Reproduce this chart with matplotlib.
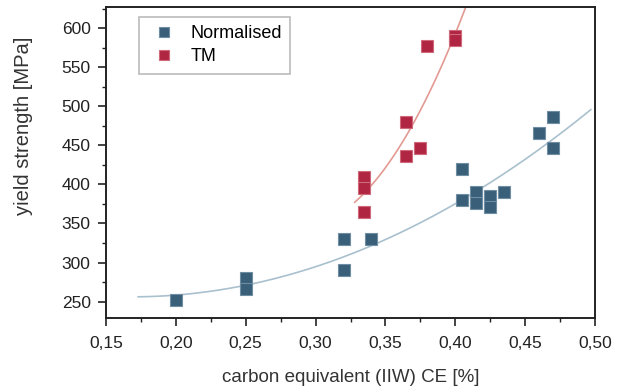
import numpy as np
import matplotlib
matplotlib.use("Agg")
import matplotlib.pyplot as plt
from matplotlib.ticker import MultipleLocator, FuncFormatter

# carbon equivalent CE [%] and yield strength [MPa]
norm_ce = [0.20, 0.25, 0.25, 0.32, 0.32, 0.34, 0.405, 0.405, 0.415, 0.415,
           0.425, 0.425, 0.435, 0.46, 0.47, 0.47]
norm_ys = [252, 280, 266, 330, 290, 330, 420, 380, 390, 376,
           385, 371, 390, 466, 486, 446]

tm_ce = [0.335, 0.335, 0.335, 0.365, 0.365, 0.375, 0.38, 0.40, 0.40]
tm_ys = [410, 396, 365, 480, 436, 446, 577, 590, 585]

norm_label = "Normalised"
tm_label = "TM"

blue = "#3a5f78"
red = "#b02642"

plt.rcParams['font.family'] = ['Liberation Sans', 'DejaVu Sans']

fig = plt.figure(figsize=(6.19, 3.90), dpi=100)
ax = fig.add_axes([106 / 619, 1 - 318 / 390, (595 - 106) / 619, (318 - 7) / 390])

# quadratic fits through each group
p_norm = np.polyfit(norm_ce, norm_ys, 2)
xs = np.linspace(0.173, 0.497, 200)
ax.plot(xs, np.polyval(p_norm, xs), color="#a9c0ce", lw=1.2, zorder=1)

p_tm = np.polyfit(tm_ce, tm_ys, 2)
xs = np.linspace(0.328, 0.41, 200)
ax.plot(xs, np.polyval(p_tm, xs), color="#e39a92", lw=1.2, zorder=1)

ax.plot(norm_ce, norm_ys, ls="none", marker="s", ms=8.4, color=blue,
        mec="#6f8ea3", mew=0.8, label=norm_label, zorder=3)
ax.plot(tm_ce, tm_ys, ls="none", marker="s", ms=8.4, color=red,
        mec="#cf6a7d", mew=0.8, label=tm_label, zorder=3)

ax.set_xlim(0.15, 0.50)
ax.set_ylim(229, 627)
ax.xaxis.set_major_locator(MultipleLocator(0.05))
ax.xaxis.set_minor_locator(MultipleLocator(0.025))
ax.yaxis.set_major_locator(MultipleLocator(50))
ax.yaxis.set_minor_locator(MultipleLocator(25))
ax.xaxis.set_major_formatter(FuncFormatter(lambda v, p: f"{v:.2f}".replace(".", ",")))

ax.tick_params(which="major", direction="out", length=6, width=1.2, labelsize=12.5, colors="#222222", pad=5)
ax.tick_params(which="minor", direction="out", length=3, width=1.0, colors="#222222")
ax.tick_params(axis="x", which="major", pad=7)
ax.tick_params(top=False, right=False, which="both")
for s in ax.spines.values():
    s.set_linewidth(1.4)
    s.set_color("#222222")

ax.set_xlabel("carbon equivalent (IIW) CE [%]", fontsize=13.5, color="#333333", labelpad=13)
ax.set_ylabel("yield strength [MPa]", fontsize=14.5, color="#333333")
ax.yaxis.set_label_coords(-0.149, 0.617)

leg = ax.legend(loc="upper left", bbox_to_anchor=(0.067, 0.968), fontsize=13, frameon=True,
                fancybox=False, edgecolor="#aaaaaa", handletextpad=0.5, borderpad=0.45,
                labelspacing=0.35, handlelength=1.9, borderaxespad=0, markerscale=0.85)
leg.get_frame().set_linewidth(1.2)

fig.savefig("out.png", dpi=100)
